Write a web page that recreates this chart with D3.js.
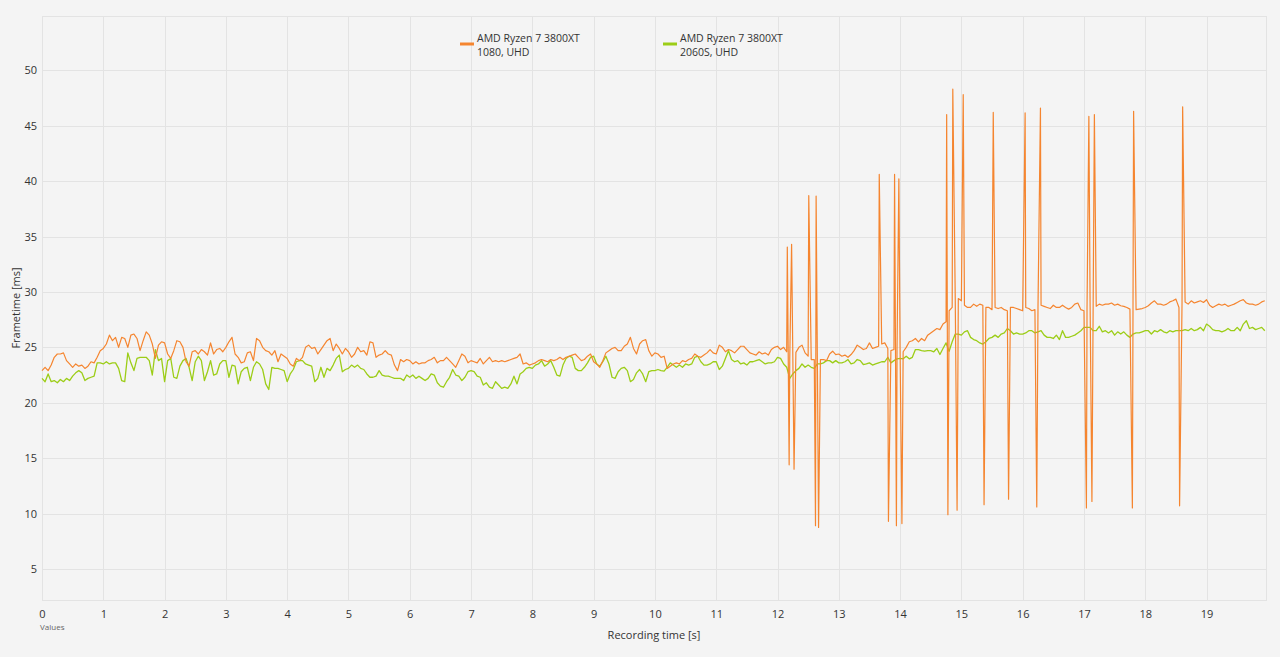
<!DOCTYPE html>
<html>
<head>
<meta charset="utf-8">
<script src="https://cdn.jsdelivr.net/npm/d3@7/dist/d3.min.js"></script>
<style>
  html, body { margin: 0; padding: 0; background: #f4f4f4; }
  svg { display: block; font-family: "Open Sans", "Noto Sans", sans-serif; }
  .grid line { stroke: #e3e3e3; stroke-width: 1; shape-rendering: crispEdges; }
  .tick-label { fill: #333; font-size: 11px; }
</style>
</head>
<body>
<svg id="chart" width="1280" height="657"></svg>
<script>
// frametimes [ms], one sample every 0.05 s
const sampleStep = 0.05;

const orangeBase = [
  22.9, 23.2, 22.9, 23.4, 24.1, 24.4, 24.4, 24.5, 23.8, 23.5, 23.2, 23.5, 23.3, 23.4, 23.1, 23.3, 23.7, 23.6, 24.1, 24.7,
  24.9, 25.3, 26.1, 25.6, 25.9, 25.0, 25.9, 25.8, 25.0, 26.1, 26.2, 25.8, 24.7, 25.6, 26.4, 26.1, 25.3, 24.0, 25.2, 25.5,
  25.4, 24.4, 24.0, 24.7, 25.6, 25.5, 25.0, 23.7, 23.3, 24.6, 24.7, 24.4, 24.8, 24.6, 24.3, 25.4, 24.4, 24.8, 24.9, 24.6,
  25.0, 25.5, 25.9, 24.4, 24.1, 23.6, 23.7, 24.5, 24.6, 23.8, 25.8, 25.6, 25.0, 24.7, 24.6, 24.3, 24.7, 23.7, 24.4, 24.2,
  24.0, 23.5, 23.3, 24.0, 23.8, 24.1, 25.0, 25.2, 24.9, 25.0, 24.4, 24.8, 25.2, 25.6, 25.8, 24.7, 25.3, 24.9, 24.4, 24.9,
  24.6, 24.1, 24.4, 25.0, 24.6, 24.7, 24.3, 25.5, 25.4, 24.1, 24.3, 24.4, 24.7, 24.4, 24.3, 23.4, 22.9, 23.9, 23.7, 23.9,
  23.8, 23.5, 23.7, 23.5, 23.6, 23.6, 23.8, 23.9, 24.1, 23.6, 23.8, 23.8, 24.1, 23.8, 23.5, 23.2, 23.8, 24.4, 24.2, 23.6,
  23.8, 23.7, 23.6, 24.0, 23.5, 23.8, 24.1, 23.7, 23.8, 23.7, 23.8, 23.7, 23.8, 23.9, 24.0, 24.1, 24.4, 23.5, 23.6, 23.4,
  23.5, 23.6, 23.8, 23.9, 23.8, 23.7, 23.9, 23.8, 23.9, 24.1, 23.9, 24.1, 24.2, 24.3, 24.4, 24.1, 23.8, 23.9, 24.2, 24.4,
  23.7, 23.5, 23.2, 23.8, 24.5, 24.7, 24.9, 25.0, 24.7, 24.7, 25.1, 25.3, 25.9, 24.9, 24.4, 25.3, 25.6, 25.7, 24.7, 24.2,
  24.5, 24.4, 24.1, 24.2, 23.1, 23.3, 23.5, 23.6, 23.5, 23.8, 23.7, 23.9, 24.0, 24.4, 24.2, 24.1, 24.3, 24.5, 24.8, 24.5,
  24.4, 25.2, 25.0, 24.6, 24.8, 24.7, 24.5, 24.8, 25.1, 25.1, 24.8, 24.5, 24.4, 24.3, 24.6, 24.4, 24.5, 24.3, 24.8, 25.0,
  25.1, 24.8, 25.0, 24.6, 24.0, 24.2, 24.55, 25.0, 25.2, 24.5, 24.2, 23.9, 23.9, 24.0, 23.9, 23.9, 23.8, 24.4, 24.65, 24.35,
  24.4, 24.2, 24.3, 24.1, 24.35, 24.7, 25.2, 25.0, 24.8, 24.9, 25.4, 24.9, 25.0, 25.1, 25.3, 25.4, 24.9, 24.7, 24.8, 24.7,
  24.65, 24.6, 25.0, 25.5, 25.6, 25.8, 25.5, 25.8, 25.6, 26.1, 26.3, 26.5, 26.7, 26.6, 27.1, 27.3, 28.3, 28.6, 29.3, 29.4,
  29.2, 28.8, 28.6, 28.6, 28.9, 28.7, 28.9, 28.8, 28.6, 28.6, 28.4, 28.6, 28.5, 28.6, 28.4, 28.3, 28.6, 28.6, 28.5, 28.4,
  28.3, 28.6, 28.5, 28.3, 28.4, 28.6, 28.8, 28.7, 28.6, 28.5, 28.8, 28.6, 28.6, 28.8, 28.6, 28.45, 28.6, 28.9, 29.0, 28.4,
  28.3, 28.5, 29.0, 28.8, 28.7, 28.9, 28.8, 28.9, 28.9, 29.0, 28.8, 28.9, 28.75, 28.7, 28.6, 28.45, 28.4, 28.4, 28.45, 28.5,
  28.6, 28.75, 29.0, 29.2, 28.9, 28.9, 28.8, 28.9, 29.1, 29.2, 29.35, 28.6, 29.0, 29.1, 28.9, 29.2, 29.0, 29.1, 29.2, 29.05,
  29.3, 28.8, 28.6, 28.75, 28.9, 28.8, 28.9, 28.7, 28.8, 28.9, 29.05, 29.2, 29.3, 29.0, 28.9, 28.9, 28.8, 28.9, 29.1, 29.2
];

// single long / short frames of the orange run: [time s, frametime ms]
const orangeSpikes = [
  [12.16, 34.05], [12.19, 14.4], [12.23, 34.3], [12.27, 14.0],
  [12.51, 38.7], [12.62, 8.9], [12.63, 38.65], [12.67, 8.75],
  [13.66, 40.6], [13.81, 9.3], [13.91, 40.6], [13.94, 8.9], [13.98, 40.2], [14.03, 9.1],
  [14.76, 46.0], [14.78, 9.9], [14.86, 48.3], [14.93, 10.3], [15.03, 47.8],
  [15.37, 10.8], [15.52, 46.2], [15.77, 11.3], [16.04, 46.15], [16.23, 10.6], [16.29, 46.6],
  [17.04, 10.5], [17.08, 45.85], [17.13, 11.1], [17.17, 46.0],
  [17.79, 10.5], [17.81, 46.3], [18.56, 10.7], [18.61, 46.7]
];

const greenValues = [
  22.2, 21.9, 22.6, 21.9, 22.0, 21.8, 22.1, 21.9, 22.2, 22.0, 22.4, 22.7, 22.9, 22.7, 22.0, 22.2, 22.3, 22.4, 23.6, 23.6,
  23.5, 23.7, 23.5, 23.6, 23.6, 23.1, 22.0, 21.9, 24.5, 23.6, 22.9, 24.0, 24.1, 24.1, 24.1, 23.8, 22.5, 24.8, 23.8, 24.0,
  21.9, 23.8, 24.0, 22.3, 22.2, 23.3, 23.8, 24.0, 23.2, 22.0, 23.7, 24.2, 23.8, 22.0, 22.8, 23.8, 22.5, 22.6, 23.5, 23.8,
  23.8, 22.3, 23.4, 23.3, 21.7, 22.8, 23.1, 23.2, 22.0, 23.2, 23.7, 23.5, 23.0, 21.7, 21.2, 23.2, 23.1, 23.1, 23.0, 22.9,
  21.9, 22.6, 23.0, 23.7, 23.8, 23.8, 23.5, 23.4, 23.3, 21.9, 22.2, 23.2, 22.3, 23.1, 22.9, 23.4, 24.0, 24.3, 22.8, 23.0,
  23.1, 23.4, 23.2, 23.4, 23.1, 23.0, 22.6, 22.3, 22.3, 22.4, 22.9, 22.5, 22.4, 22.4, 22.3, 22.2, 22.2, 22.2, 22.0, 22.5,
  22.3, 22.5, 22.2, 22.4, 22.2, 22.0, 22.2, 22.6, 22.5, 21.8, 21.5, 21.4, 21.9, 22.3, 23.0, 22.5, 22.4, 22.0, 22.3, 22.8,
  22.9, 22.8, 22.4, 22.3, 21.6, 21.8, 21.4, 21.3, 21.9, 21.6, 21.3, 21.4, 21.3, 21.7, 22.4, 21.7, 22.6, 22.8, 23.1, 23.2,
  23.1, 23.4, 23.5, 23.8, 23.3, 23.5, 23.8, 23.2, 22.5, 22.4, 23.4, 24.0, 24.2, 24.1, 23.1, 22.9, 22.9, 23.2, 23.6, 24.1,
  24.2, 23.5, 23.3, 23.7, 24.2, 23.5, 22.3, 22.2, 22.8, 23.1, 23.2, 22.9, 21.9, 22.1, 22.7, 23.0, 22.6, 21.9, 22.8, 22.9,
  22.9, 23.0, 22.9, 22.85, 23.2, 23.6, 23.4, 23.2, 23.4, 23.2, 23.5, 23.4, 23.5, 24.1, 24.2, 23.7, 23.4, 23.4, 23.5, 23.7,
  23.7, 23.0, 23.3, 24.0, 24.7, 23.9, 23.7, 23.8, 23.5, 23.6, 23.4, 23.7, 23.7, 23.8, 23.9, 23.7, 23.5, 23.6, 23.6, 23.7,
  24.1, 24.0, 23.5, 23.2, 22.2, 22.6, 22.9, 23.1, 23.5, 23.2, 23.4, 23.2, 23.1, 23.5, 23.5, 23.6, 23.8, 23.8, 23.6, 23.8,
  23.6, 23.6, 23.7, 23.9, 23.5, 23.6, 23.9, 23.8, 23.45, 23.5, 23.6, 23.4, 23.5, 23.6, 23.7, 23.7, 24.1, 23.6, 23.8, 23.96,
  24.0, 23.96, 24.2, 23.96, 24.1, 24.8, 24.8, 24.7, 24.65, 24.7, 24.7, 24.6, 24.9, 24.35, 24.9, 25.4, 24.65, 25.5, 26.2, 26.2,
  26.1, 26.4, 26.5, 25.9, 25.7, 25.6, 25.4, 25.3, 25.5, 25.8, 25.9, 26.1, 25.9, 26.2, 26.3, 26.7, 26.5, 26.2, 26.3, 26.2,
  26.2, 26.3, 26.5, 26.5, 26.3, 26.4, 26.5, 26.1, 25.9, 25.9, 25.8, 26.1, 25.7, 26.5, 25.9, 25.9, 26.0, 26.1, 26.3, 26.5,
  26.8, 26.8, 26.8, 26.5, 26.5, 26.9, 26.4, 26.5, 26.3, 26.5, 26.1, 26.4, 26.2, 26.4, 26.1, 25.9, 26.2, 26.3, 26.3, 26.4,
  26.5, 26.5, 26.2, 26.5, 26.4, 26.6, 26.4, 26.3, 26.5, 26.4, 26.5, 26.5, 26.5, 26.6, 26.5, 26.7, 26.5, 26.6, 26.8, 26.5,
  27.1, 26.9, 26.6, 26.5, 26.5, 26.4, 26.5, 26.7, 26.5, 26.5, 26.8, 26.5, 27.1, 27.4, 26.7, 26.8, 26.6, 26.7, 26.8, 26.5
];

const xTicks = [0, 1, 2, 3, 4, 5, 6, 7, 8, 9, 10, 11, 12, 13, 14, 15, 16, 17, 18, 19];
const yTicks = [5, 10, 15, 20, 25, 30, 35, 40, 45, 50];

const seriesInfo = [
  { name: "AMD Ryzen 7 3800XT", sub: "1080, UHD", color: "#f5852f" },
  { name: "AMD Ryzen 7 3800XT", sub: "2060S, UHD", color: "#9ccd17" }
];

const plot = { left: 42, right: 1266, top: 16, bottom: 600 };

const svg = d3.select("#chart");

const x = d3.scaleLinear().domain([0, 19.97]).range([plot.left, plot.right]);
const y = d3.scaleLinear().domain([2.2, 54.9]).range([plot.bottom, plot.top]);

// grid
const grid = svg.append("g").attr("class", "grid");
grid.selectAll(".gx")
    .data(xTicks)
    .enter().append("line")
    .attr("x1", d => Math.round(x(d)) + 0.5).attr("x2", d => Math.round(x(d)) + 0.5)
    .attr("y1", plot.top).attr("y2", plot.bottom);
grid.selectAll(".gy")
    .data(yTicks)
    .enter().append("line")
    .attr("x1", plot.left).attr("x2", plot.right)
    .attr("y1", d => Math.round(y(d)) + 0.5).attr("y2", d => Math.round(y(d)) + 0.5);
grid.append("rect")
    .attr("x", plot.left + 0.5).attr("y", plot.top + 0.5)
    .attr("width", plot.right - plot.left).attr("height", plot.bottom - plot.top)
    .attr("fill", "none").attr("stroke", "#e3e3e3")
    .attr("shape-rendering", "crispEdges");

// axes (labels only)
const xAxis = svg.append("g")
    .attr("transform", `translate(0,${plot.bottom})`)
    .call(d3.axisBottom(x).tickValues(xTicks).tickSize(0).tickPadding(10));
const yAxis = svg.append("g")
    .attr("transform", `translate(${plot.left},0)`)
    .call(d3.axisLeft(y).tickValues(yTicks).tickSize(0).tickPadding(5));
[xAxis, yAxis].forEach(a => {
    a.select(".domain").remove();
    a.selectAll("text").attr("class", "tick-label")
        .style("font-family", "'Open Sans', 'Noto Sans', sans-serif");
});

svg.append("text")
    .attr("x", plot.left - 2).attr("y", 630)
    .attr("fill", "#666").attr("font-size", 8)
    .text("Values");

svg.append("text")
    .attr("x", (plot.left + plot.right) / 2).attr("y", 639)
    .attr("text-anchor", "middle")
    .attr("fill", "#333").attr("font-size", 11)
    .text("Recording time [s]");

svg.append("text")
    .attr("transform", `translate(20,${(plot.top + plot.bottom) / 2}) rotate(-90)`)
    .attr("text-anchor", "middle")
    .attr("fill", "#333").attr("font-size", 11)
    .text("Frametime [ms]");

// series
const greenData = greenValues.map((v, i) => [i * sampleStep, v]);
const orangeData = orangeBase.map((v, i) => [i * sampleStep, v])
    .concat(orangeSpikes)
    .sort((a, b) => a[0] - b[0]);

const line = d3.line().x(d => x(d[0])).y(d => y(d[1]));

const lines = svg.append("g");
lines.append("path")
    .datum(greenData)
    .attr("d", line)
    .attr("fill", "none")
    .attr("stroke", seriesInfo[1].color)
    .attr("stroke-width", 1.3)
    .attr("stroke-linejoin", "round");
lines.append("path")
    .datum(orangeData)
    .attr("d", line)
    .attr("fill", "none")
    .attr("stroke", seriesInfo[0].color)
    .attr("stroke-width", 1.2)
    .attr("stroke-linejoin", "round");

// legend
const legend = svg.append("g");
const legendX = [460, 663];
seriesInfo.forEach((s, i) => {
    const g = legend.append("g").attr("transform", `translate(${legendX[i]},0)`);
    g.append("rect")
        .attr("x", 0).attr("y", 42.5)
        .attr("width", 14).attr("height", 3)
        .attr("fill", s.color);
    g.append("text")
        .attr("x", 17).attr("y", 42)
        .attr("fill", "#333").attr("font-size", 10.5)
        .text(s.name);
    g.append("text")
        .attr("x", 17).attr("y", 56)
        .attr("fill", "#333").attr("font-size", 10.5)
        .text(s.sub);
});
</script>
</body>
</html>
